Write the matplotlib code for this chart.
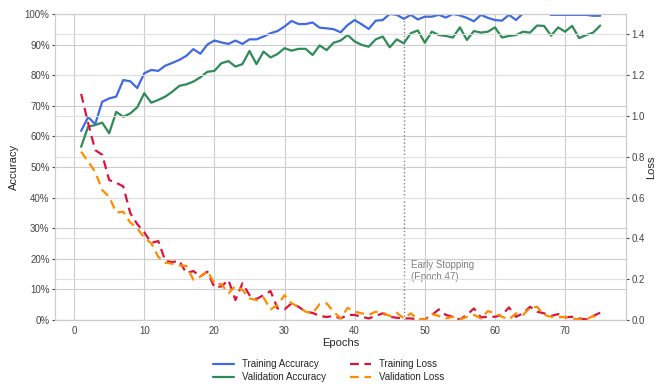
import numpy as np
import matplotlib
matplotlib.use("Agg")
import matplotlib.pyplot as plt
import seaborn as sns
from matplotlib.ticker import PercentFormatter

sns.set_style("whitegrid")
plt.rcParams['font.family'] = ['Liberation Sans', 'DejaVu Sans']

epochs = list(range(1, 76))

# accuracy in percent
train_acc = [61.8, 66.3, 64.0, 71.3, 72.4, 73.0, 78.4, 78.0, 75.8, 80.6,
             81.7, 81.4, 83.1, 84.0, 85.0, 86.3, 88.5, 87.0, 90.0, 91.3,
             90.7, 90.2, 91.3, 90.2, 91.7, 91.7, 92.6, 93.7, 94.4, 95.9,
             97.7, 96.7, 96.7, 97.2, 95.5, 95.3, 95.0, 94.0, 96.4, 98.0,
             96.6, 95.1, 97.8, 98.0, 100.0, 99.7, 98.4, 99.7, 98.2, 99.1,
             99.1, 99.7, 98.8, 100.0, 99.5, 98.7, 97.6, 99.7, 98.7, 98.0,
             97.8, 99.7, 98.0, 100.2, 101.0, 101.0, 101.0, 99.7, 99.7, 99.7,
             99.7, 99.7, 99.7, 99.4, 99.4]
val_acc = [56.6, 63.2, 63.7, 64.5, 61.0, 68.0, 66.4, 67.5, 69.5, 74.1,
           71.0, 71.9, 73.0, 74.6, 76.5, 77.0, 77.9, 79.3, 81.1, 81.4,
           83.9, 84.6, 82.8, 83.6, 87.9, 83.6, 87.7, 85.8, 86.9, 88.8,
           88.0, 88.6, 88.6, 86.6, 89.7, 88.2, 90.6, 91.3, 93.1, 91.0,
           89.9, 89.3, 91.7, 92.6, 89.1, 91.7, 90.4, 93.7, 94.6, 90.6,
           94.2, 93.1, 92.8, 92.3, 95.6, 91.5, 94.4, 93.9, 94.2, 95.6,
           92.3, 92.8, 93.1, 94.2, 93.9, 96.2, 96.1, 92.9, 95.6, 94.2,
           96.1, 92.1, 93.1, 93.9, 96.2]

train_loss = [1.108, 0.965, 0.833, 0.810, 0.686, 0.673, 0.655, 0.524, 0.470, 0.430,
              0.378, 0.387, 0.290, 0.284, 0.290, 0.230, 0.240, 0.214, 0.237, 0.160,
              0.165, 0.196, 0.098, 0.180, 0.122, 0.103, 0.122, 0.142, 0.057, 0.052,
              0.082, 0.065, 0.041, 0.035, 0.020, 0.015, 0.020, 0.008, 0.025, 0.025,
              0.016, 0.008, 0.020, 0.033, 0.016, 0.011, 0.008, 0.008, 0.003, 0.003,
              0.025, 0.052, 0.025, 0.016, 0.003, 0.025, 0.057, 0.013, 0.016, 0.016,
              0.025, 0.062, 0.016, 0.033, 0.065, 0.041, 0.033, 0.020, 0.029, 0.013,
              0.016, 0.008, 0.003, 0.020, 0.036]
val_loss = [0.825, 0.776, 0.727, 0.637, 0.604, 0.527, 0.531, 0.478, 0.449, 0.404,
            0.376, 0.310, 0.281, 0.276, 0.268, 0.265, 0.198, 0.212, 0.240, 0.180,
            0.176, 0.131, 0.167, 0.147, 0.106, 0.098, 0.111, 0.052, 0.074, 0.122,
            0.082, 0.065, 0.041, 0.033, 0.078, 0.082, 0.041, 0.008, 0.060, 0.041,
            0.033, 0.025, 0.041, 0.036, 0.020, 0.036, 0.008, 0.033, 0.003, 0.003,
            0.029, 0.020, 0.008, 0.016, 0.003, 0.016, 0.025, 0.008, 0.044, 0.033,
            0.016, 0.003, 0.033, 0.025, 0.060, 0.065, 0.025, 0.016, 0.013, 0.016,
            0.008, 0.003, 0.003, 0.020, 0.003]

stop_epoch = 47

fig, ax = plt.subplots(figsize=(6.57, 3.87), dpi=100)
fig.subplots_adjust(left=0.084, right=0.953, top=0.964, bottom=0.173)
ax2 = ax.twinx()

l1, = ax.plot(epochs, np.array(train_acc) / 100, color='royalblue', lw=1.6, label='Training Accuracy')
l2, = ax.plot(epochs, np.array(val_acc) / 100, color='seagreen', lw=1.6, label='Validation Accuracy')
l3, = ax2.plot(epochs, train_loss, color='crimson', lw=1.6, ls=(0, (4, 2.5)), label='Training Loss')
l4, = ax2.plot(epochs, val_loss, color='darkorange', lw=1.6, ls=(0, (4, 2.5)), label='Validation Loss')

ax.set_ylim(0, 1)
ax2.set_ylim(0, 1.5)
ax.set_yticks(np.arange(0, 1.01, 0.1))
ax.yaxis.set_major_formatter(PercentFormatter(1.0, decimals=0))
ax2.set_yticks(np.arange(0, 1.41, 0.2))

ax.axvline(stop_epoch, color='gray', ls=':', lw=1)
ax.text(stop_epoch + 1, 0.16, 'Early Stopping\n(Epoch 47)', color='gray',
        fontsize=7, va='center', ha='left')

ax.set_xlabel('Epochs', fontsize=8, labelpad=2)
ax.set_ylabel('Accuracy', fontsize=8)
ax2.set_ylabel('Loss', fontsize=8, labelpad=1)
for a in (ax, ax2):
    a.tick_params(labelsize=7, colors='#444444', length=2, pad=2)
    for s in a.spines.values():
        s.set_color('#cccccc')
ax2.grid(True, color='#e0e0e0')

fig.legend(handles=[l1, l2, l3, l4], loc='lower center', ncol=2, frameon=False,
           fontsize=7, bbox_to_anchor=(0.5, -0.01), handlelength=2.2,
           columnspacing=2.5, labelspacing=0.3)

fig.savefig('out.png', dpi=100)
